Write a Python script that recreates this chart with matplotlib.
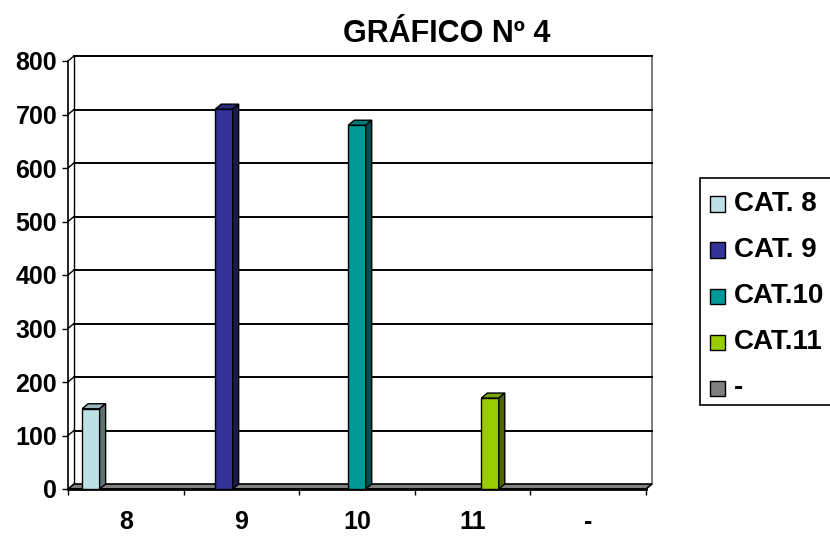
import matplotlib.pyplot as plt
from matplotlib.patches import Polygon, Rectangle
import numpy as np

plt.rcParams['font.family'] = ['Liberation Sans', 'DejaVu Sans']
plt.rcParams['font.weight'] = 'bold'

# Datos del gráfico
grupos = ['8', '9', '10', '11', '-']
series = ['CAT. 8', 'CAT. 9', 'CAT.10', 'CAT.11', '-']
cat8 = [150, 0, 0, 0, 0]
cat9 = [0, 710, 0, 0, 0]
cat10 = [0, 0, 680, 0, 0]
cat11 = [0, 0, 0, 170, 0]
guion = [0, 0, 0, 0, 0]
valores = [cat8, cat9, cat10, cat11, guion]

colores = ['#BDE1E5', '#333399', '#009999', '#99CC00', '#808080']
y_ticks = list(range(0, 801, 100))

W, H = 830, 536
fig = plt.figure(figsize=(W / 100, H / 100), dpi=100)

# ejes = plano frontal
x0, x1, y0, y1 = 68, 646, 489, 61
ax = fig.add_axes([x0 / W, 1 - y0 / H, (x1 - x0) / W, (y0 - y1) / H])
ax.set_xlim(-0.5, len(grupos) - 0.5)
ax.set_ylim(0, 800)

# profundidad 3D en unidades de datos
dx = 6 / ((x1 - x0) / len(grupos))
dy = 5 / ((y0 - y1) / 800)

xa, xb = -0.5, len(grupos) - 0.5

# pared del fondo
ax.add_patch(Polygon([(xa + dx, dy), (xb + dx, dy), (xb + dx, 800 + dy), (xa + dx, 800 + dy)],
                     closed=True, facecolor='white', edgecolor='none', zorder=0, clip_on=False))
ax.plot([xb + dx, xb + dx], [dy, 800 + dy], color='#808080', lw=1.5, zorder=1, clip_on=False)
ax.plot([xa + dx, xa + dx], [dy, 800 + dy], color='black', lw=1, zorder=1, clip_on=False)
for yv in y_ticks[1:]:
    ax.plot([xa + dx, xb + dx], [yv + dy, yv + dy], color='black', lw=1.4, zorder=1, clip_on=False)
    ax.plot([xa, xa + dx], [yv, yv + dy], color='black', lw=1, zorder=1, clip_on=False)

# piso
ax.add_patch(Polygon([(xa, 0), (xb, 0), (xb + dx, dy), (xa + dx, dy)], closed=True,
                     facecolor='#808080', edgecolor='black', lw=1.2, zorder=2, clip_on=False))
ax.plot([xa, xb], [0, 0], color='black', lw=2, zorder=2, clip_on=False)


def oscurecer(c, f):
    r, g, b = plt.matplotlib.colors.to_rgb(c)
    return (r * f, g * f, b * f)


ancho = 0.151
inicio = (1 - len(series) * ancho) / 2
for k, vals in enumerate(valores):
    for i, v in enumerate(vals):
        if v <= 0:
            continue
        xl = i - 0.5 + inicio + k * ancho
        xr = xl + ancho
        ax.bar(xl, v, width=ancho, align='edge', color=colores[k], edgecolor='black',
               lw=1, zorder=3)
        ax.add_patch(Polygon([(xl, v), (xr, v), (xr + dx, v + dy), (xl + dx, v + dy)], closed=True,
                             facecolor=oscurecer(colores[k], 0.8), edgecolor='black', lw=1, zorder=3))
        ax.add_patch(Polygon([(xr, 0), (xr + dx, dy), (xr + dx, v + dy), (xr, v)], closed=True,
                             facecolor=oscurecer(colores[k], 0.5), edgecolor='black', lw=1, zorder=3))

# ejes y ticks
for s in ['top', 'right', 'bottom']:
    ax.spines[s].set_visible(False)
ax.spines['left'].set_linewidth(1.2)
ax.set_yticks(y_ticks)
ax.set_yticklabels([str(v) for v in y_ticks], fontsize=18, fontweight='bold')
ax.tick_params(axis='y', direction='out', length=4.3, width=1, pad=3.5)
ax.set_xticks(np.arange(len(grupos) + 1) - 0.5)
ax.set_xticklabels([])
ax.set_xticks(np.arange(len(grupos)), minor=True)
ax.set_xticklabels(grupos, minor=True, fontsize=18, fontweight='bold')
ax.tick_params(axis='x', which='major', direction='out', length=4.3, width=1)
ax.tick_params(axis='x', which='minor', length=0, pad=15)

fig.text(447 / W, 1 - 34 / H, 'GRÁFICO Nº 4', ha='center', va='center', fontsize=22, fontweight='bold')

# leyenda
fig.add_artist(Rectangle((700 / W, 1 - 405 / H), 140 / W, 227 / H, transform=fig.transFigure,
                         facecolor='white', edgecolor='black', lw=1.2))
for k, nombre in enumerate(series):
    yc = 204 + k * 46
    fig.add_artist(Rectangle((710 / W, 1 - (yc + 7.5) / H), 15 / W, 15 / H, transform=fig.transFigure,
                             facecolor=colores[k], edgecolor='black', lw=1))
    fig.text(734 / W, 1 - yc / H, nombre, ha='left', va='center', fontsize=20, fontweight='bold')

fig.savefig('out.png', dpi=100)
